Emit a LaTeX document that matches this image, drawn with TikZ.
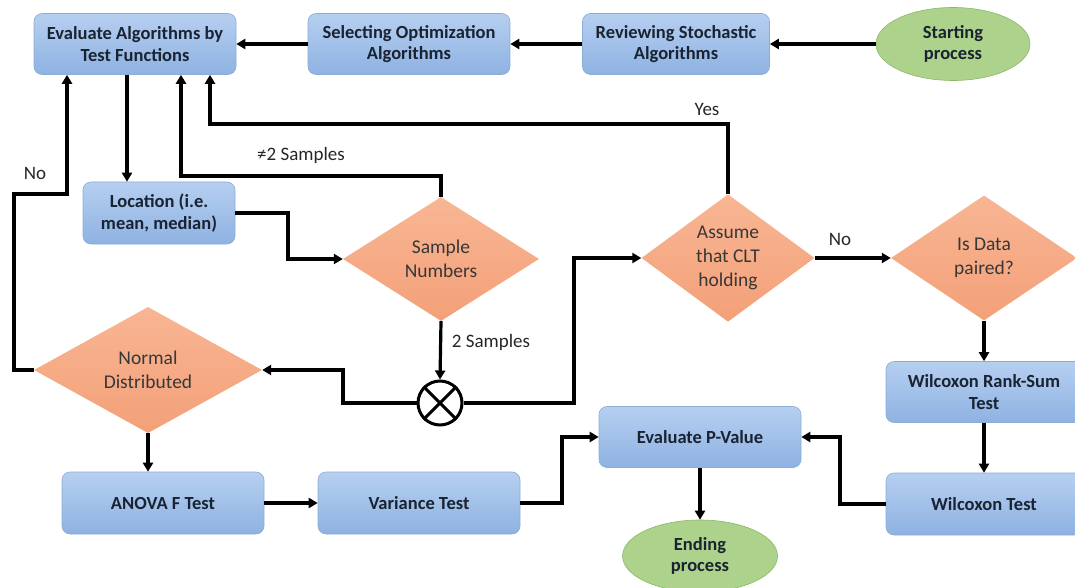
\documentclass[tikz,border=0pt]{standalone}
\usepackage{fontspec}
\setmainfont{Carlito}
\usetikzlibrary{shapes.geometric,arrows.meta}
\definecolor{boxtop}{RGB}{182,207,240}
\definecolor{boxbot}{RGB}{142,178,226}
\definecolor{boxline}{RGB}{140,172,214}
\definecolor{diatop}{RGB}{248,182,148}
\definecolor{diabot}{RGB}{243,160,120}
\definecolor{ellfill}{RGB}{172,210,140}
\definecolor{ellline}{RGB}{140,185,105}
\definecolor{txt}{RGB}{25,35,50}
\definecolor{dtxt}{RGB}{55,55,55}
\tikzset{
  box/.style={rectangle, rounded corners=8pt, draw=boxline, line width=0.6pt,
    top color=boxtop, bottom color=boxbot, minimum width=202pt, minimum height=61pt,
    inner sep=0pt, align=center, text=txt, font=\fontsize{18.5}{21.5}\selectfont\bfseries},
  dec/.style={diamond, draw=none, top color=diatop, bottom color=diabot, inner sep=0pt,
    align=center, text=dtxt, font=\fontsize{19.5}{24}\selectfont},
  term/.style={ellipse, draw=ellline, line width=0.6pt, fill=ellfill, inner sep=0pt,
    minimum width=154pt, minimum height=73pt, align=center, text=txt,
    font=\fontsize{18.5}{21.5}\selectfont\bfseries},
  arr/.style={line width=3.2pt, -{Triangle[length=9pt,width=10pt]}},
  lbl/.style={font=\fontsize{19}{22}\selectfont, text=black!85, inner sep=0pt}
}
\begin{document}
\begin{tikzpicture}[x=1pt,y=-1pt]
\useasboundingbox (0,0) rectangle (1075,588);
% nodes
\node[box] (ea) at (135,44) {Evaluate Algorithms by\\Test Functions};
\node[box] (sel) at (409,44) {Selecting Optimization\\Algorithms};
\node[box, minimum width=187pt] (rev) at (676,44) {Reviewing Stochastic\\Algorithms};
\node[term] (start) at (953,44) {Starting\\process};
\node[box, minimum width=152pt, minimum height=62pt] (loc) at (159,213) {Location (i.e.\\mean, median)};
\node[dec, minimum width=196pt, minimum height=124pt] (sn) at (441,259) {Sample\\Numbers};
\node[dec, minimum width=173pt, minimum height=125pt] (ass) at (728,258) {Assume\\that CLT\\holding};
\node[dec, minimum width=186pt, minimum height=125pt] (isd) at (984,258) {Is Data\\paired?};
\node[dec, minimum width=228pt, minimum height=120pt] (nd) at (148,370) {Normal\\Distributed};
\node[circle, draw, line width=3pt, minimum size=44pt, inner sep=0pt] (xo) at (440,403) {};
\draw[line width=3pt] (xo.45) -- (xo.225) (xo.135) -- (xo.315);
\node[box, minimum width=196pt] (wrs) at (984,392) {Wilcoxon Rank-Sum\\Test};
\node[box, minimum width=196pt, minimum height=62pt] (wt) at (984,504) {Wilcoxon Test};
\node[box] (pv) at (700,437) {Evaluate P-Value};
\node[box, minimum height=62pt] (anova) at (163,503) {ANOVA F Test};
\node[box, minimum height=62pt] (var) at (419,503) {Variance Test};
\node[term, minimum width=155pt, minimum height=72pt] (end) at (700,556) {Ending\\process};
% connectors
\draw[arr] (start.west) -- (rev.east);
\draw[arr] (rev.west) -- (sel.east);
\draw[arr] (sel.west) -- (ea.east);
\draw[arr] (127,0 |- ea.south) -- (127,0 |- loc.north);
\draw[arr] (loc.east) -| (288,259) -- (sn.west);
\draw[arr] (sn.north) |- (181,176) -- (181,0 |- ea.south);
\node[lbl] (l1) at (301,155) {≠2 Samples};
\draw[arr] (ass.north) |- (210,124) -- (210,0 |- ea.south);
\node[lbl] (l2) at (707,109) {Yes};
\draw[arr] (nd.west) -- (14,370) -- (14,194) -- (67,194) -- (67,0 |- ea.south);
\node[lbl] (l3) at (35,173) {No};
\draw[arr] (sn.south) -- (xo.north);
\node[lbl] (l4) at (491,342) {2 Samples};
\draw[arr] (xo.west) -| (343,370) -- (nd.east);
\draw[arr] (xo.east) -| (574,258) -- (ass.west);
\draw[arr] (ass.east) -- (isd.west);
\node[lbl] (l5) at (840,239) {No};
\draw[arr] (isd.south) -- (wrs.north);
\draw[arr] (wrs.south) -- (wt.north);
\draw[arr] (wt.west) -| (840,437) -- (pv.east);
\draw[arr] (var.east) -| (562,437) -- (pv.west);
\draw[arr] (anova.east) -- (var.west);
\draw[arr] (nd.south) -- (nd.south |- anova.north);
\draw[arr] (pv.south) -- (end.north);
\end{tikzpicture}
\end{document}
